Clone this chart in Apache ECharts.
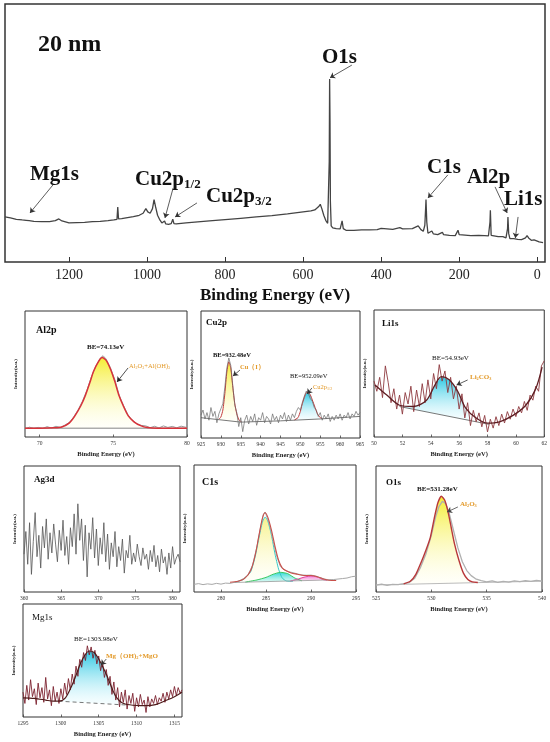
<!DOCTYPE html>
<html>
<head>
<meta charset="utf-8">
<script src="https://cdn.jsdelivr.net/npm/echarts@6.0.0/dist/echarts.min.js"></script>
<style>
html, body { margin: 0; padding: 0; background: #fff; }
#main { width: 550px; height: 742px; }
</style>
</head>
<body>
<div id="main"></div>
<script>
// ---- survey spectrum (binding energy eV, intensity a.u.)
var surveyData = [[1364,135],[1350,132],[1335,128],[1320,126],[1310,125],[1306,130],[1302,124],[1290,122],[1270,121],[1250,121],[1235,124],[1226,129],[1218,123],[1200,117],[1180,118],[1160,119],[1140,121],[1120,122],[1100,124],[1085,126],[1077,128],[1075,165],[1073,129],[1065,130],[1050,133],[1035,136],[1020,140],[1010,146],[1003,160],[998,150],[992,146],[986,160],[982,187],[978,165],[973,140],[968,128],[962,117],[957,116],[955,123],[952,114],[945,113],[938,115],[934,128],[931,115],[925,114],[900,117],[870,120],[840,123],[800,127],[760,131],[720,135],[680,139],[640,144],[600,150],[580,153],[570,156],[560,166],[556,173],[552,160],[547,140],[542,125],[537,116],[535,118],[533,300],[532,548],[531,420],[530,180],[528,108],[524,102],[515,100],[505,99],[500,123],[497,100],[490,95],[470,95],[450,96],[430,96],[410,97],[400,101],[395,97],[370,98],[352,103],[345,99],[320,100],[315,102],[305,108],[298,97],[292,92],[288,110],[286,160],[285,187],[283,120],[280,86],[276,85],[270,93],[266,84],[255,82],[243,89],[240,82],[225,80],[210,79],[203,95],[200,82],[195,77],[170,79],[150,80],[135,79],[125,78],[121,120],[120,155],[118,80],[114,75],[100,76],[88,76],[80,72],[76,100],[75,135],[73,85],[70,70],[60,70],[55,73],[50,68],[40,67],[30,72],[26,79],[22,72],[15,65],[8,66],[3,63],[-5,60],[-15,58]];
var surveyTicks = [0, 200, 400, 600, 800, 1000, 1200];
// arrows: from [eV, I] to [eV, I]
var surveyArrows = [[475,590,531,552],[1241,231,1300,147],[933,222,954,132],[872,177,928,135],[229,261,280,192],[108,225,77,147],[49,135,56,72]];

// ---- Al2p
var al2pRaw = [[69,6.5],[69.3,7.8],[69.6,6.9],[69.9,7.6],[70.2,6.8],[70.5,8.2],[70.8,7.1],[71.1,8.5],[71.4,7.6],[71.7,9.4],[72,11.5],[72.3,15.8],[72.6,21.5],[72.9,28.4],[73.2,37],[73.5,47.5],[73.8,56],[74.1,62.5],[74.3,64.5],[74.5,62],[74.8,55],[75.1,45.5],[75.4,33],[75.7,24.8],[76,17.5],[76.3,13.2],[76.6,10.6],[76.9,9.2],[77.2,8.8],[77.5,7.4],[77.8,8.5],[78.1,7.2],[78.4,8.8],[78.7,7.6],[79,8.4],[79.3,7.3],[79.6,8.6],[80,7.5]];
var al2pFit = [[69,7],[70,7],[71,7.3],[71.5,8],[72,11],[72.4,17],[72.8,25],[73.1,33],[73.4,43],[73.65,52],[74,60],[74.25,63],[74.5,61],[74.8,54],[75.1,44],[75.35,34],[75.7,24],[76,17],[76.4,12],[76.85,9],[77.3,7.5],[78,7],[80,7]];
var al2pBg = [[69,7],[80,7]];
var al2pTicks = [70, 75, 80];
var al2pArrows = [[76.0,54.8,75.25,43.7]];

// ---- Cu2p
var cu2pRaw = [[925,18],[925.5,22],[926,15],[926.5,20],[927,14],[927.5,24],[928,17],[928.5,21],[929,12],[929.5,19],[930,23],[930.5,27],[931,40],[931.5,55],[932,63],[932.5,57],[933,41],[933.5,26],[934,20],[934.5,9],[935,16],[935.5,5],[936,14],[936.5,18],[937,11],[937.5,17],[938,13],[938.5,19],[939,10],[939.5,16],[940,14],[940.5,20],[941,12],[941.5,17],[942,15],[942.5,11],[943,19],[943.5,14],[944,17],[944.5,12],[945,18],[945.5,15],[946,20],[946.5,13],[947,18],[947.5,14],[948,19],[948.5,16],[949,21],[949.5,24],[950,22],[950.5,28],[951,33],[951.5,37],[952,35],[952.5,31],[953,29],[953.5,24],[954,22],[954.5,17],[955,20],[955.5,14],[956,18],[956.5,15],[957,19],[957.5,13],[958,17],[958.5,14],[959,18],[959.5,15],[960,19],[960.5,14],[961,18],[961.5,16],[962,20],[962.5,15],[963,19],[963.5,17],[964,21],[964.5,18],[965,20]];
var cu2pPeak1 = [[929.5,14.8],[930,16.5],[930.5,22],[931,35],[931.5,52],[932,60],[932.5,55],[933,40],[933.5,27],[934,19],[934.6,14],[935.2,12.8]];
var cu2pPeak2 = [[948.5,14.2],[949.4,16],[950,21],[950.4,26],[951,32],[951.6,36],[952,36],[952.5,34],[953,30],[953.7,24],[954.3,19],[955,16],[955.5,15.3]];
var cu2pBg = [[925,16],[935,12.5],[945,13.5],[955,15],[965,17]];
var cu2pTicks = [925, 930, 935, 940, 945, 950, 955, 960, 965];
var cu2pArrows = [[934.8,53.5,933.05,48.8],[952.9,39.4,951.7,34.6]];

// ---- Li1s
var li1sRaw = [[50.0,44],[50.2,36],[50.4,47],[50.6,31],[50.8,56],[51.0,43],[51.2,27],[51.4,38],[51.6,22],[51.8,33],[52.0,18],[52.2,35],[52.4,26],[52.6,40],[52.8,20],[53.0,37],[53.2,24],[53.4,42],[53.6,27],[53.8,45],[54.0,30],[54.2,50],[54.4,38],[54.6,57],[54.8,44],[55.0,52],[55.2,35],[55.4,47],[55.6,30],[55.8,40],[56.0,22],[56.2,34],[56.4,15],[56.6,27],[56.8,9],[57.0,21],[57.2,12],[57.4,19],[57.6,8],[57.8,17],[58.0,4],[58.2,14],[58.4,7],[58.6,16],[58.8,9],[59.0,18],[59.2,11],[59.4,20],[59.6,14],[59.8,22],[60.0,16],[60.2,24],[60.4,19],[60.6,28],[60.8,21],[61.0,33],[61.2,29],[61.4,40],[61.6,36],[61.8,56],[62.0,60]];
var li1sEnv = [[50.07,41],[50.9,33],[51.8,25],[52.8,24],[53.7,29],[54.3,41],[54.75,47.5],[55.3,45],[55.9,36],[56.45,23],[57.2,15],[58.0,11],[58.85,12],[59.8,17],[60.7,25],[61.4,38],[61.85,55]];
var li1sPeak = [[51.8,24],[52.8,24.5],[53.3,26],[53.7,29],[54,34],[54.3,41],[54.75,47.5],[55.3,45],[55.6,41],[55.9,36],[56.2,29],[56.45,23],[56.7,17],[56.9,12.8]];
var li1sBg = [[51.8,24],[58.1,10]];
var li1sTicks = [50, 52, 54, 56, 58, 60, 62];
var li1sArrows = [[56.6,44.9,55.82,40.9]];

// ---- Ag3d
var ag3dRaw = [[360.00,30],[360.25,48],[360.50,22],[360.75,55],[361.00,14],[361.25,40],[361.50,63],[361.75,28],[362.00,45],[362.25,19],[362.50,52],[362.75,35],[363.00,58],[363.25,26],[363.50,47],[363.75,31],[364.00,54],[364.25,38],[364.50,24],[364.75,49],[365.00,33],[365.25,57],[365.50,29],[365.75,44],[366.00,22],[366.25,51],[366.50,36],[366.75,62],[367.00,30],[367.25,70],[367.50,41],[367.75,58],[368.00,25],[368.25,53],[368.50,12],[368.75,47],[369.00,34],[369.25,59],[369.50,27],[369.75,50],[370.00,21],[370.25,43],[370.50,30],[370.75,55],[371.00,24],[371.25,46],[371.50,18],[371.75,39],[372.00,28],[372.25,48],[372.50,20],[372.75,36],[373.00,25],[373.25,42],[373.50,15],[373.75,33],[374.00,27],[374.25,45],[374.50,22],[374.75,31],[375.00,24],[375.25,38],[375.50,28],[375.75,21],[376.00,35],[376.25,26],[376.50,30],[376.75,18],[377.00,33],[377.25,24],[377.50,37],[377.75,20],[378.00,29],[378.25,16],[378.50,34],[378.75,23],[379.00,28],[379.25,14],[379.50,31],[379.75,19],[380.00,36],[380.25,22],[380.50,27],[380.75,30],[381.00,24]];
var ag3dTicks = [360, 365, 370, 375, 380];

// ---- C1s
var c1sRaw = [[277,6],[277.5,6.6],[278,5.8],[278.5,6.4],[279,6],[279.5,6.8],[280,6.2],[280.5,7],[281,6.8],[281.5,7.6],[282,8.7],[282.5,10.6],[283,13.5],[283.5,21],[284,36],[284.4,51],[284.7,61],[284.9,63],[285.1,61.5],[285.4,53],[285.8,40],[286.2,28],[286.6,20],[287,17.5],[287.5,16],[288,15.2],[288.5,14.2],[289,13.4],[289.5,13.2],[290,13.3],[290.5,12.6],[291,11.4],[291.5,10.2],[292,9.5],[292.5,9.8],[293,10.2],[293.5,10.6],[294,11],[294.5,12],[295,12.5]];
var c1sEnv = [[281,7.7],[281.9,8.5],[282.6,10.5],[283.3,17],[283.8,29],[284.2,44],[284.6,58],[284.9,62.4],[285.2,59],[285.6,49],[286,36],[286.4,25],[286.8,19],[287.3,16.5],[287.8,15],[288.5,14],[289.2,13],[290,13],[290.7,12],[291.3,10.5],[292,9.3],[292.8,9]];
var c1sPeak1 = [[281.5,7.5],[282.5,10],[283.3,16],[283.8,28],[284.2,42],[284.6,55],[284.9,59],[285.2,56],[285.6,45],[286,30],[286.4,18],[286.8,11],[287.3,8.6],[288,8.4]];
var c1sPeak2 = [[282.7,7.8],[284,9.5],[285,11.5],[285.8,14],[286.6,15.5],[287.4,14.5],[288.2,11],[289,8.8]];
var c1sPeak3 = [[287.7,8.6],[288.6,10.3],[289.4,12],[290.1,12.6],[290.8,11.6],[291.3,9.8],[291.8,9.2]];
var c1sBg = [[281.5,7.5],[292.5,9.6]];
var c1sTicks = [280, 285, 290, 295];

// ---- O1s
var o1sRaw = [[525,5.5],[525.5,6.3],[526,5.2],[526.5,6.1],[527,5.8],[527.5,6.6],[528,7.5],[528.5,11],[529,19],[529.5,30],[530,45],[530.4,60],[530.7,68],[531,72],[531.3,70],[531.6,63],[532,49],[532.4,35],[532.8,24],[533.2,17],[533.6,13],[534,10.5],[534.5,9],[535,8],[535.5,8.8],[536,7.6],[536.5,8.5],[537,7.8],[537.5,8.9],[538,8.2],[538.5,9],[539,8.4],[539.5,9.2],[540,8.6]];
var o1sFit = [[527.5,6.5],[528.1,8.5],[528.6,14],[529.1,24],[529.5,33],[529.9,43],[530.3,60],[530.6,71],[530.9,76],[531.2,73],[531.5,64],[531.8,51],[532.1,38],[532.5,25],[532.9,15],[533.3,10],[533.7,8],[534.2,7.5]];
var o1sBg = [[525,5.6],[540,8.6]];
var o1sTicks = [525, 530, 535, 540];
var o1sArrows = [[532.4,67.5,531.42,63.5]];

// ---- Mg1s
var mg1sRaw = [[1295.00,22],[1295.25,12],[1295.50,28],[1295.75,15],[1296.00,33],[1296.25,18],[1296.50,25],[1296.75,11],[1297.00,30],[1297.25,17],[1297.50,26],[1297.75,13],[1298.00,35],[1298.25,16],[1298.50,24],[1298.75,10],[1299.00,27],[1299.25,14],[1299.50,22],[1299.75,12],[1300.00,25],[1300.25,16],[1300.50,30],[1300.75,20],[1301.00,34],[1301.25,24],[1301.50,38],[1301.75,29],[1302.00,45],[1302.25,36],[1302.50,51],[1302.75,44],[1303.00,57],[1303.25,50],[1303.50,63],[1303.75,55],[1304.00,62],[1304.25,52],[1304.50,59],[1304.75,47],[1305.00,54],[1305.25,41],[1305.50,49],[1305.75,35],[1306.00,42],[1306.25,28],[1306.50,36],[1306.75,20],[1307.00,31],[1307.25,15],[1307.50,26],[1307.75,9],[1308.00,22],[1308.25,13],[1308.50,24],[1308.75,7],[1309.00,19],[1309.25,12],[1309.50,21],[1309.75,5],[1310.00,17],[1310.25,9],[1310.50,20],[1310.75,11],[1311.00,15],[1311.25,4],[1311.50,18],[1311.75,9],[1312.00,16],[1312.25,12],[1312.50,19],[1312.75,11],[1313.00,17],[1313.25,14],[1313.50,21],[1313.75,13],[1314.00,22],[1314.25,16],[1314.50,24],[1314.75,18],[1315.00,27],[1315.25,19],[1315.50,26],[1315.75,21],[1316.00,24]];
var mg1sEnv = [[1295,17],[1296.5,16.5],[1298,15],[1299,14],[1299.7,14],[1300.6,17],[1301.4,27],[1302,37],[1302.5,46],[1303.1,54],[1303.76,58.4],[1304.4,57],[1304.95,52],[1305.5,45],[1306.06,37],[1306.6,28],[1307.15,19.5],[1307.8,14],[1308.5,11.5],[1310,10.2],[1311.3,10],[1312.5,11],[1314,15],[1315,18],[1316,22]];
var mg1sPeak = [[1299.7,14],[1300.6,17],[1301.4,27],[1302,37],[1302.5,46],[1303.1,54],[1303.76,58.4],[1304.4,57],[1304.95,52],[1305.5,45],[1306.06,37],[1306.6,28],[1307.15,19.5],[1307.8,14],[1308.5,11.5],[1308.7,10.6]];
var mg1sBg = [[1299.7,14],[1308.7,10.6]];
var mg1sTicks = [1295, 1300, 1305, 1310, 1315];
var mg1sArrows = [[1306.0,51.3,1305.3,46]];

var SERIF = "'Times New Roman','Liberation Serif',serif";
var ORANGE = '#e39a2a';

function interp(pts, x) {
    if (x <= pts[0][0]) return pts[0][1];
    for (var i = 1; i < pts.length; i++) {
        if (x <= pts[i][0]) {
            var a = pts[i - 1], b = pts[i];
            return a[1] + (b[1] - a[1]) * (x - a[0]) / (b[0] - a[0]);
        }
    }
    return pts[pts.length - 1][1];
}

function grad(top, bottom) {
    return new echarts.graphic.LinearGradient(0, 0, 0, 1, [
        { offset: 0, color: top }, { offset: 1, color: bottom }
    ]);
}

function arrowLine(list, color) {
    return {
        silent: true,
        symbol: ['none', 'arrow'],
        symbolSize: 5,
        label: { show: false },
        lineStyle: { color: color || '#333', width: 0.8, type: 'solid' },
        data: list.map(function (a) {
            return [{ coord: [a[0], a[1]] }, { coord: [a[2], a[3]] }];
        })
    };
}

function line(gi, data, color, width, extra) {
    var s = {
        type: 'line', xAxisIndex: gi, yAxisIndex: gi, data: data,
        symbol: 'none', silent: true,
        lineStyle: { color: color, width: width }
    };
    for (var k in extra) s[k] = extra[k];
    return s;
}

// filled peak: polygon between the fitted component and the background
function peak(gi, pts, bg, fill, edge, width) {
    var out = [{
        type: 'custom', xAxisIndex: gi, yAxisIndex: gi, silent: true, z: 1, clip: true,
        data: [pts[0]],
        renderItem: function (params, api) {
            var up = pts.map(function (p) { return api.coord(p); });
            var lo = pts.slice().reverse().map(function (p) { return api.coord([p[0], interp(bg, p[0])]); });
            return { type: 'polygon', shape: { points: up.concat(lo) }, style: { fill: fill } };
        }
    }];
    if (width) out.push(line(gi, pts, edge, width, { smooth: 0.2 }));
    return out;
}

function gridBox(l, t, w, h, bw) {
    return { left: l, top: t, width: w, height: h, show: true, borderColor: '#333', borderWidth: bw || 1 };
}

function plain(v) { return String(v); }

function xAx(gi, min, max, ticks, named) {
    return {
        type: 'value', gridIndex: gi, min: min, max: max,
        axisLine: { show: false }, splitLine: { show: false },
        axisTick: { show: true, inside: true, length: 2.5, customValues: ticks, lineStyle: { color: '#444', width: 0.8 } },
        axisLabel: { customValues: ticks, formatter: plain, fontSize: 5.5, fontFamily: SERIF, color: '#333', margin: 4 },
        name: named ? 'Binding Energy (eV)' : '',
        nameLocation: 'middle', nameGap: 14,
        nameTextStyle: { fontSize: 6.5, fontWeight: 'bold', fontFamily: SERIF, color: '#222' }
    };
}

function yAx(gi, max, named) {
    return {
        type: 'value', gridIndex: gi, min: 0, max: max,
        axisLine: { show: false }, axisTick: { show: false },
        axisLabel: { show: false }, splitLine: { show: false },
        name: named ? 'Intensity(a.u.)' : '',
        nameLocation: 'middle', nameGap: 7,
        nameTextStyle: { fontSize: 5, fontWeight: 'bold', fontFamily: SERIF, color: '#222' }
    };
}

var YELLOW = grad('rgba(244,236,40,0.95)', 'rgba(255,255,235,0.25)');
var CYAN = grad('rgba(30,196,224,0.95)', 'rgba(225,250,255,0.25)');

var grids = [
    gridBox(5, 4, 540, 258, 1.5),
    gridBox(25, 311, 162, 126),
    gridBox(201, 311, 159, 127),
    gridBox(374, 310, 171, 127),
    gridBox(24, 466, 156, 126),
    gridBox(194, 465, 162, 127),
    gridBox(376, 466, 166, 126),
    gridBox(23, 604, 159, 113)
];

var surveyX = {
    type: 'value', gridIndex: 0, min: -20, max: 1364, inverse: true,
    axisLine: { show: false }, splitLine: { show: false },
    axisTick: { show: true, inside: true, length: 5, customValues: surveyTicks, lineStyle: { color: '#333' } },
    axisLabel: { customValues: surveyTicks, formatter: plain, fontSize: 14, fontFamily: SERIF, color: '#222', margin: 6 },
    name: 'Binding Energy (eV)', nameLocation: 'middle', nameGap: 25,
    nameTextStyle: { fontSize: 17, fontWeight: 'bold', fontFamily: SERIF, color: '#111' }
};

var xAxes = [
    surveyX,
    xAx(1, 69, 80, al2pTicks, true),
    xAx(2, 925, 965, cu2pTicks, true),
    xAx(3, 50, 62, li1sTicks, true),
    xAx(4, 360, 381, ag3dTicks, false),
    xAx(5, 277, 295, c1sTicks, true),
    xAx(6, 525, 540, o1sTicks, true),
    xAx(7, 1295, 1316, mg1sTicks, true)
];

var yAxes = [yAx(0, 773, false)];
for (var g = 1; g <= 7; g++) yAxes.push(yAx(g, 100, true));

var series = [];
// survey
series.push(line(0, surveyData, '#444', 1.3, { markLine: arrowLine(surveyArrows, '#333') }));
// Al2p
series = series.concat(peak(1, al2pFit, al2pBg, YELLOW));
series.push(line(1, al2pBg, '#666', 0.8));
series.push(line(1, al2pRaw, '#9a9a9a', 1, { markLine: arrowLine(al2pArrows, '#222') }));
series.push(line(1, al2pFit, '#d8323a', 1.5, { smooth: 0.2 }));
// Cu2p
series = series.concat(peak(2, cu2pPeak1, cu2pBg, YELLOW, '#c43a3a', 1));
series = series.concat(peak(2, cu2pPeak2, cu2pBg, CYAN, '#c43a3a', 1));
series.push(line(2, cu2pBg, '#555', 0.8));
series.push(line(2, cu2pRaw, '#6a6a6a', 0.7, { markLine: arrowLine(cu2pArrows, '#333') }));
// Li1s
series = series.concat(peak(3, li1sPeak, li1sBg, CYAN));
series.push(line(3, li1sBg, '#555', 0.8));
series.push(line(3, li1sRaw, '#8e3a40', 0.9, { markLine: arrowLine(li1sArrows, '#333') }));
series.push(line(3, li1sEnv, '#5e1d22', 1.3, { smooth: 0.3 }));
// Ag3d
series.push(line(4, ag3dRaw, '#555', 0.8));
// C1s
series = series.concat(peak(5, c1sPeak1, c1sBg, grad('rgba(246,240,120,0.85)', 'rgba(255,255,240,0.3)'), '#35c9c9', 1));
series = series.concat(peak(5, c1sPeak2, c1sBg, grad('rgba(40,214,214,0.95)', 'rgba(180,245,235,0.5)'), '#38c860', 1));
series = series.concat(peak(5, c1sPeak3, c1sBg, grad('rgba(240,110,210,0.9)', 'rgba(250,200,235,0.5)'), '#e0409a', 1));
series.push(line(5, c1sBg, '#999', 0.8));
series.push(line(5, c1sRaw, '#a8a8a8', 1));
series.push(line(5, c1sEnv, '#c8504a', 1.1, { smooth: 0.3 }));
// O1s
series = series.concat(peak(6, o1sFit, o1sBg, YELLOW));
series.push(line(6, o1sBg, '#aaa', 0.8));
series.push(line(6, o1sRaw, '#b0b0b0', 1.3, { markLine: arrowLine(o1sArrows, '#444') }));
series.push(line(6, o1sFit, '#b8383a', 1.4, { smooth: 0.2 }));
// Mg1s
series = series.concat(peak(7, mg1sPeak, mg1sBg, CYAN));
series.push(line(7, mg1sBg, '#555', 0.8, { lineStyle: { color: '#555', width: 0.8, type: [4, 3] } }));
series.push(line(7, mg1sRaw, '#7d2330', 0.9, { markLine: arrowLine(mg1sArrows, '#333') }));
series.push(line(7, mg1sEnv, '#4e1a1a', 1.2, { smooth: 0.3 }));

// annotation texts
function T(x, y, text, size, weight, color, rich) {
    var st = {
        text: text, fontSize: size, fontWeight: weight || 'normal', fontFamily: SERIF,
        fill: color || '#111', align: 'left', verticalAlign: 'middle'
    };
    if (rich) st.rich = rich;
    return { type: 'text', x: x, y: y, silent: true, z: 100, style: st };
}
function subRich(size, color, weight) {
    return {
        n: { fontSize: size, fontWeight: weight, fontFamily: SERIF, fill: color, color: color },
        s: { fontSize: size * 0.62, fontWeight: weight, fontFamily: SERIF, fill: color, color: color, padding: [size * 0.45, 0, 0, 0] }
    };
}

var texts = [
    T(38, 45, '20 nm', 24, 'bold'),
    T(322, 58, 'O1s', 21, 'bold'),
    T(30, 175, 'Mg1s', 21, 'bold'),
    T(135, 180, '{n|Cu2p}{s|1/2}', 21, 'bold', '#111', subRich(21, '#111', 'bold')),
    T(206, 197, '{n|Cu2p}{s|3/2}', 21, 'bold', '#111', subRich(21, '#111', 'bold')),
    T(427, 168, 'C1s', 21, 'bold'),
    T(467, 178, 'Al2p', 21, 'bold'),
    T(504, 200, 'Li1s', 21, 'bold'),
    // Al2p
    T(36, 330, 'Al2p', 10, 'bold'),
    T(87, 347, 'BE=74.13eV', 7, 'bold'),
    T(129, 366, '{n|Al}{s|2}{n|O}{s|3}{n|+Al(OH)}{s|3}', 6.5, 'normal', ORANGE, subRich(6.5, ORANGE, 'normal')),
    // Cu2p
    T(206, 323, 'Cu2p', 9, 'bold'),
    T(213, 355, 'BE=932.48eV', 6.5, 'bold'),
    T(240, 367, 'Cu（I）', 6.5, 'bold', ORANGE),
    T(290, 376, 'BE=952.09eV', 6.5, 'normal'),
    T(313, 387, '{n|Cu2p}{s|1/2}', 6.5, 'normal', ORANGE, subRich(6.5, ORANGE, 'normal')),
    // Li1s
    T(382, 324, 'Li1s', 9, 'bold'),
    T(432, 358, 'BE=54.93eV', 7, 'normal'),
    T(470, 377, '{n|Li}{s|2}{n|CO}{s|3}', 7, 'bold', ORANGE, subRich(7, ORANGE, 'bold')),
    // Ag3d
    T(34, 480, 'Ag3d', 9, 'bold'),
    // C1s
    T(202, 482, 'C1s', 10, 'bold'),
    // O1s
    T(386, 483, 'O1s', 9, 'bold'),
    T(417, 489, 'BE=531.28eV', 7, 'bold'),
    T(460, 504, '{n|Al}{s|2}{n|O}{s|3}', 7, 'bold', ORANGE, subRich(7, ORANGE, 'bold')),
    // Mg1s
    T(32, 618, 'Mg1s', 9, 'normal'),
    T(74, 639, 'BE=1303.98eV', 7, 'normal'),
    T(106, 656, '{n|Mg（OH)}{s|2}{n|+MgO}', 7, 'bold', ORANGE, subRich(7, ORANGE, 'bold'))
];

var chart = echarts.init(document.getElementById('main'));
chart.setOption({
    animation: false,
    backgroundColor: '#fff',
    grid: grids,
    xAxis: xAxes,
    yAxis: yAxes,
    series: series,
    graphic: texts
});
</script>
</body>
</html>
